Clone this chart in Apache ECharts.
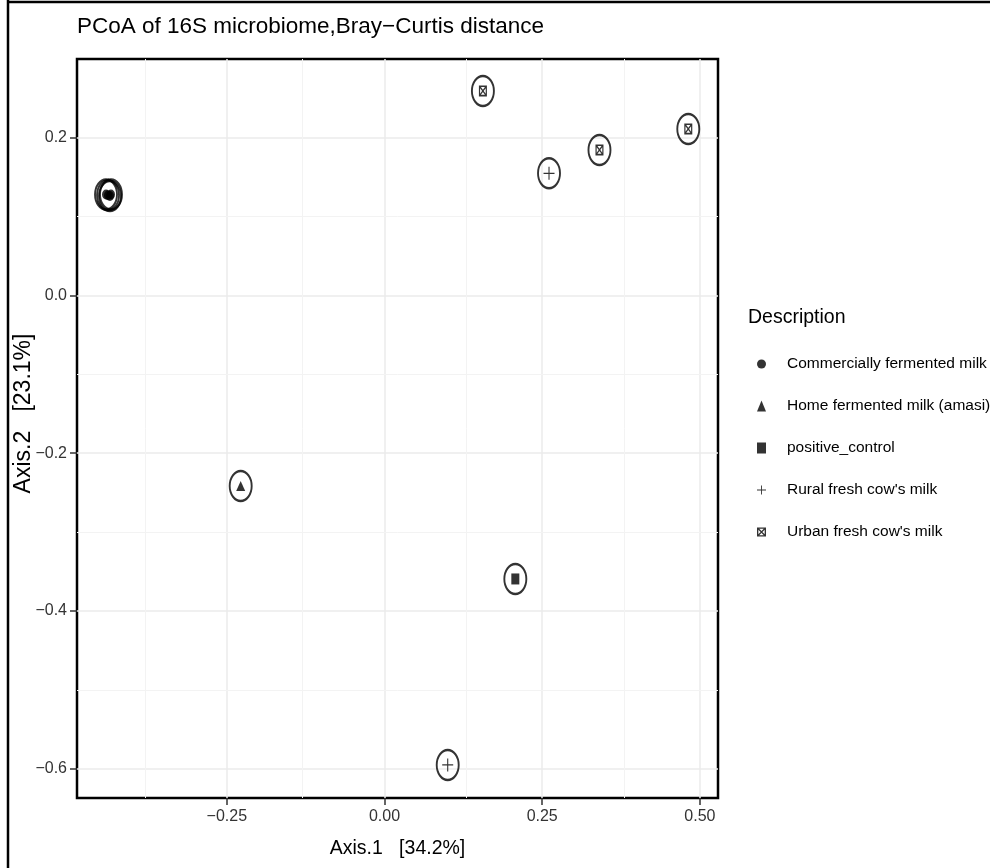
<!DOCTYPE html>
<html>
<head>
<meta charset="utf-8">
<script src="https://cdn.jsdelivr.net/npm/echarts@6/dist/echarts.min.js"></script>
<style>
  html, body { margin: 0; padding: 0; background: #fff; }
  #chart { width: 990px; height: 868px; }
</style>
</head>
<body>
<div id="chart"></div>
<script>
// PCoA ordination (Bray–Curtis) of 16S profiles, one array of [Axis.1, Axis.2] per sample group
const groupNames = [
  'Commercially fermented milk',
  'Home fermented milk (amasi)',
  'positive_control',
  "Rural fresh cow's milk",
  "Urban fresh cow's milk"
];
const commercialPts = [[-0.4415, 0.128], [-0.4383, 0.127], [-0.4352, 0.126], [-0.4336, 0.128]];
const homePts = [[-0.228, -0.2415]];
const controlPts = [[0.2074, -0.3594]];
const ruralPts = [[0.2608, 0.1549], [0.1002, -0.5952]];
const urbanPts = [[0.156, 0.2593], [0.3408, 0.1845], [0.4816, 0.2111]];

// axis ticks and their printed labels
const xTicks = [-0.25, 0, 0.25, 0.5];
const xTickLabels = ['\u22120.25', '0.00', '0.25', '0.50'];
const yTicks = [-0.6, -0.4, -0.2, 0, 0.2];
const yTickLabels = ['\u22120.6', '\u22120.4', '\u22120.2', '0.0', '0.2'];
const xMinor = [-0.375, -0.125, 0.125, 0.375];
const yMinor = [-0.5, -0.3, -0.1, 0.1];
const xRange = [-0.4875, 0.5287];
const yRange = [-0.6371, 0.2998];

const FONT = '"Liberation Sans", Arial, Helvetica, sans-serif';

// marker shapes
const plusPath = 'path://M4.5,0H5.5V4.5H10V5.5H5.5V10H4.5V5.5H0V4.5H4.5Z';
const boxXPath = 'path://M0,0H10V10H0ZM1.5,1.5V8.5H8.5V1.5Z' +
  'M1.5,1.5L2.5,1.5L8.5,7.5L8.5,8.5L7.5,8.5L1.5,2.5Z' +
  'M8.5,1.5L8.5,2.5L2.5,8.5L1.5,8.5L1.5,7.5L7.5,1.5Z';

function labelFor(ticks, labels) {
  return function (v) {
    const i = ticks.findIndex(function (t) { return Math.abs(t - v) < 1e-9; });
    return i >= 0 ? labels[i] : '';
  };
}

const allPts = [].concat(commercialPts, homePts, controlPts, ruralPts, urbanPts);

const groups = [
  { name: groupNames[0], data: commercialPts, symbol: 'circle', size: [8, 10] },
  { name: groupNames[1], data: homePts, symbol: 'triangle', size: [9, 10] },
  { name: groupNames[2], data: controlPts, symbol: 'rect', size: [8, 11] },
  { name: groupNames[3], data: ruralPts, symbol: plusPath, size: [11, 13] },
  { name: groupNames[4], data: urbanPts, symbol: boxXPath, size: [8, 11] }
];

const minorLines = xMinor.map(function (v) { return { xAxis: v }; })
  .concat(yMinor.map(function (v) { return { yAxis: v }; }));

const series = [
  {
    type: 'line',
    name: 'minor-grid',
    data: [],
    silent: true,
    z: 1,
    markLine: {
      silent: true,
      symbol: ['none', 'none'],
      label: { show: false },
      lineStyle: { color: '#f3f3f3', width: 1, type: 'solid' },
      emphasis: { disabled: true },
      data: minorLines,
      animation: false
    }
  },
  {
    type: 'scatter',
    name: 'ring',
    data: allPts,
    symbol: 'circle',
    symbolSize: [22, 30],
    itemStyle: { color: 'rgba(0,0,0,0)', borderColor: '#000', borderWidth: 2.2 },
    silent: true,
    z: 3
  }
].concat(groups.map(function (g) {
  return {
    type: 'scatter',
    name: g.name,
    data: g.data,
    symbol: g.symbol,
    symbolSize: g.size,
    itemStyle: { color: '#000' },
    z: 4
  };
}));

const chart = echarts.init(document.getElementById('chart'), null, { renderer: 'canvas' });
chart.setOption({
  animation: false,
  backgroundColor: '#fff',
  title: [
    {
      text: 'PCoA of 16S microbiome,Bray\u2212Curtis distance',
      left: 77,
      top: 15,
      padding: 0,
      textStyle: { fontFamily: FONT, fontSize: 22.5, fontWeight: 'normal', color: '#000' }
    },
    {
      text: 'Description',
      left: 748,
      top: 308,
      padding: 0,
      textStyle: { fontFamily: FONT, fontSize: 19.5, fontWeight: 'normal', color: '#000' }
    }
  ],
  grid: {
    left: 77, top: 59, right: 272, bottom: 70,
    outerBoundsMode: 'none',
    containLabel: false,
    show: true,
    borderColor: '#000',
    borderWidth: 2.5,
    backgroundColor: 'rgba(0,0,0,0)'
  },
  xAxis: {
    type: 'value',
    min: xRange[0],
    max: xRange[1],
    name: 'Axis.1   [34.2%]',
    nameLocation: 'middle',
    nameGap: 41,
    nameMoveOverlap: false,
    nameTextStyle: { fontFamily: FONT, fontSize: 19.5, color: '#000' },
    axisLine: { show: false, onZero: false },
    axisTick: { show: true, length: 7, lineStyle: { color: '#333', width: 1.5 }, customValues: xTicks },
    axisLabel: {
      customValues: xTicks,
      formatter: labelFor(xTicks, xTickLabels),
      fontFamily: FONT, fontSize: 16, color: '#333', margin: 11
    },
    splitLine: { show: true, lineStyle: { color: '#ebebeb', width: 1.5 } }
  },
  yAxis: {
    type: 'value',
    min: yRange[0],
    max: yRange[1],
    name: 'Axis.2   [23.1%]',
    nameLocation: 'middle',
    nameGap: 42,
    nameMoveOverlap: false,
    nameTextStyle: { fontFamily: FONT, fontSize: 23, color: '#000', padding: [0, 0, 0, 30] },
    axisLine: { show: false, onZero: false },
    axisTick: { show: true, length: 7, lineStyle: { color: '#333', width: 1.5 }, customValues: yTicks },
    axisLabel: {
      customValues: yTicks,
      formatter: labelFor(yTicks, yTickLabels),
      fontFamily: FONT, fontSize: 16, color: '#333', margin: 10
    },
    splitLine: { show: true, lineStyle: { color: '#ebebeb', width: 1.5 } }
  },
  legend: {
    data: groupNames.map(function (n, i) { return { name: n, icon: groups[i].symbol }; }),
    orient: 'vertical',
    left: 757,
    top: 354,
    padding: 0,
    itemWidth: 9,
    itemHeight: 11,
    itemGap: 22,
    selectedMode: false,
    textStyle: { fontFamily: FONT, fontSize: 15.5, color: '#000', lineHeight: 20, padding: [0, 0, 0, 16] }
  },
  graphic: [
    { type: 'line', shape: { x1: 8, y1: 0, x2: 8, y2: 868 }, style: { stroke: '#000', lineWidth: 2.5 } },
    { type: 'line', shape: { x1: 7, y1: 2, x2: 990, y2: 2 }, style: { stroke: '#000', lineWidth: 2.5 } }
  ],
  series: series
});
</script>
</body>
</html>
